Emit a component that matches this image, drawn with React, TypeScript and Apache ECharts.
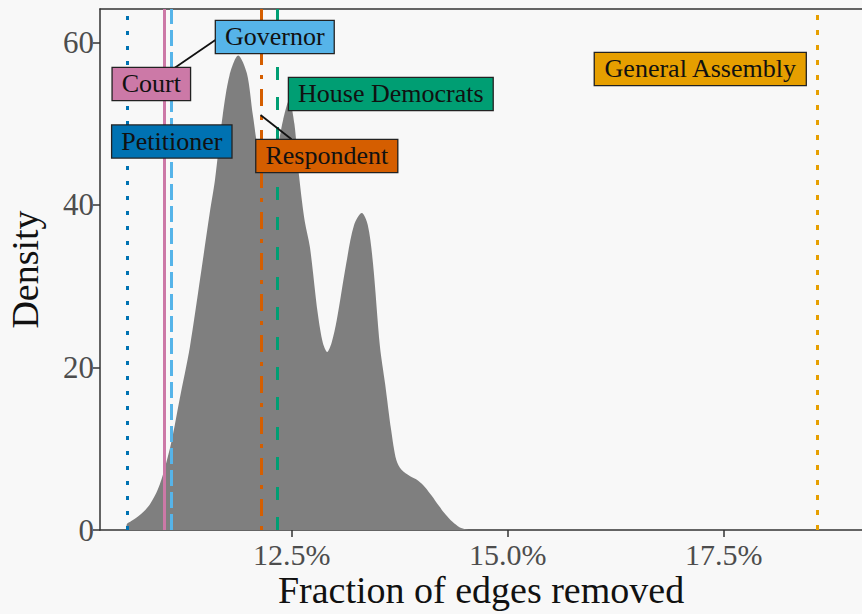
import React, { useEffect, useRef } from "react";
import * as echarts from "echarts";

// Density curve (x in percent of edges removed, y density)
const densityX = [
  10.585, 10.59, 10.63, 10.70, 10.78, 10.86, 10.95, 11.03, 11.11, 11.20, 11.32, 11.44,
  11.55, 11.61, 11.70, 11.78, 11.88, 11.98, 12.05, 12.12, 12.22, 12.32, 12.40, 12.47,
  12.53, 12.59, 12.65, 12.71, 12.80, 12.86, 12.91, 12.96, 13.02, 13.13, 13.22, 13.31,
  13.38, 13.44, 13.52, 13.58, 13.65, 13.71, 13.77, 13.87, 13.96, 14.04, 14.12, 14.20,
  14.28, 14.36, 14.44, 14.55,
];
const densityY = [
  0, 0.7, 1.0, 1.5, 2.2, 3.2, 5.0, 7.6, 11, 16, 22.5, 31,
  39, 43, 51, 56, 58.4, 56.2, 51, 46.5, 44.5, 46.5, 50.5, 52.9,
  50, 43, 38, 34.8, 26.7, 23, 21.9, 23, 25.8, 32.8, 37.5, 39,
  37.5, 32.8, 22.6, 18, 12.3, 8.6, 7.4, 6.6, 6.1, 5.3, 4.2, 3.0,
  1.9, 1.0, 0.35, 0,
];

// Reference proposals (vertical lines)
const refNames = ["Petitioner", "Court", "Governor", "Respondent", "House Democrats", "General Assembly"];
const refValues = [10.59, 11.02, 11.11, 12.15, 12.33, 18.58];

// Label anchors (data coordinates)
const labelX = [11.111, 10.874, 12.303, 12.905, 13.646, 17.228];
const labelY = [47.82, 54.89, 60.68, 46.03, 53.66, 56.74];

// Label connector segments (data coordinates)
const connectorStart = [[11.628, 60.39], [12.138, 51.08]];
const connectorEnd = [[11.108, 56.62], [12.497, 48.09]];

const xTicks = [12.5, 15.0, 17.5];
const yTicks = [0, 20, 40, 60];

const colorOf: Record<string, string> = {
  Petitioner: "#0072B2",
  Court: "#CC79A7",
  Governor: "#56B4E9",
  Respondent: "#D55E00",
  "House Democrats": "#009E73",
  "General Assembly": "#E69F00",
};
const dashOf: Record<string, any> = {
  Petitioner: [4, 11],
  Court: "solid",
  Governor: [16, 6],
  Respondent: [4, 10, 17, 10],
  "House Democrats": [13, 17],
  "General Assembly": [5, 10],
};

const FONT = "'Liberation Serif', 'DejaVu Serif', serif";

export default function App() {
  const ref = useRef<HTMLDivElement>(null);
  useEffect(() => {
    if (!ref.current) return;
    const chart = echarts.init(ref.current, null, { renderer: "svg" });
    const axisColor = "#333333";
    const option: any = {
      animation: false,
      backgroundColor: "#f8f8f8",
      grid: { left: 100, right: 0, top: 9, bottom: 84, containLabel: false, outerBoundsMode: "none" },
      xAxis: [
        {
          type: "value",
          min: 10.28,
          max: 19.1,
          splitLine: { show: false },
          axisLine: { show: true, onZero: false, lineStyle: { color: axisColor, width: 1.5 } },
          axisTick: { show: true, length: 7, lineStyle: { color: axisColor, width: 1.5 }, customValues: xTicks },
          axisLabel: {
            customValues: xTicks,
            formatter: (v: number) => v.toFixed(1) + "%",
            color: "#4d4d4d",
            fontSize: 30,
            fontFamily: FONT,
            margin: 9,
          },
          name: "Fraction of edges removed",
          nameLocation: "middle",
          nameGap: 41,
          nameMoveOverlap: false,
          nameTextStyle: { fontSize: 38, color: "#111", fontFamily: FONT },
        },
        {
          type: "value",
          position: "top",
          min: 10.28,
          max: 19.1,
          splitLine: { show: false },
          axisLine: { show: true, onZero: false, lineStyle: { color: axisColor, width: 1.5 } },
          axisTick: { show: false },
          axisLabel: { show: false },
        },
      ],
      yAxis: {
        type: "value",
        min: 0,
        max: 64.12,
        splitLine: { show: false },
        axisLine: { show: true, onZero: false, lineStyle: { color: axisColor, width: 1.5 } },
        axisTick: { show: true, length: 7, lineStyle: { color: axisColor, width: 1.5 }, customValues: yTicks },
        axisLabel: { customValues: yTicks, color: "#4d4d4d", fontSize: 31, fontFamily: FONT, margin: 6 },
        name: "Density",
        nameLocation: "middle",
        nameRotate: 90,
        nameGap: 56,
        nameMoveOverlap: false,
        nameTextStyle: { fontSize: 38, color: "#111", fontFamily: FONT },
      },
      series: [
        {
          type: "line",
          silent: true,
          z: 2,
          data: densityX.map((x, i) => [x, densityY[i]]),
          showSymbol: false,
          smooth: 0.3,
          lineStyle: { width: 0, color: "#7f7f7f" },
          areaStyle: { color: "#7f7f7f", opacity: 1 },
          markLine: {
            silent: true,
            symbol: "none",
            label: { show: false },
            data: refNames.map((n, i) => ({
              xAxis: refValues[i],
              lineStyle: { color: colorOf[n], width: 3, type: dashOf[n], cap: "butt", opacity: 1 },
            })),
          },
        },
        {
          type: "scatter",
          silent: true,
          z: 10,
          symbolSize: 1,
          itemStyle: { color: "rgba(0,0,0,0)", opacity: 1 },
          data: refNames.map((n, i) => ({
            name: n,
            value: [labelX[i], labelY[i]],
            label: { backgroundColor: colorOf[n] },
          })),
          label: {
            show: true,
            position: "inside",
            formatter: (p: any) => p.name,
            fontSize: 26,
            lineHeight: 26,
            fontFamily: FONT,
            color: "#111",
            padding: [3, 9],
            borderColor: "#222",
            borderWidth: 1.3,
            opacity: 1,
          },
          markLine: {
            silent: true,
            symbol: "none",
            label: { show: false },
            lineStyle: { color: "#111", width: 1.8, type: "solid", opacity: 1 },
            data: connectorStart.map((s, i) => [{ coord: s }, { coord: connectorEnd[i] }]),
          },
        },
      ],
    };
    chart.setOption(option);
    return () => chart.dispose();
  }, []);
  return <div ref={ref} style={{ position: "fixed", left: 0, top: 0, width: 862, height: 614 }} />;
}
